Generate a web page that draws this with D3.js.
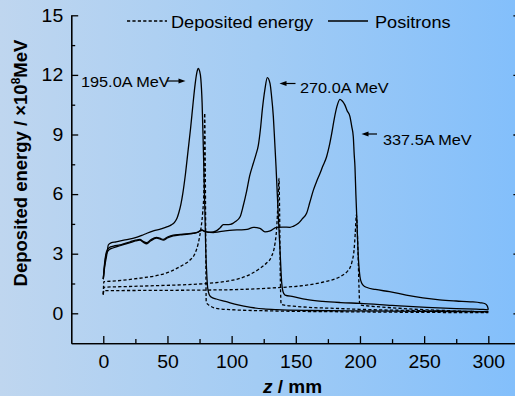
<!DOCTYPE html>
<html>
<head>
<meta charset="utf-8">
<script src="https://cdn.jsdelivr.net/npm/d3@7"></script>
<style>
  html, body { margin: 0; padding: 0; overflow: hidden; }
  svg { display: block; }
</style>
</head>
<body>
<svg id="chart" width="515" height="396"></svg>
<script>
// ---- tick values -------------------------------------------------------
const xMajorTicks = [0, 50, 100, 150, 200, 250, 300];
const xMinorTicks = [25, 75, 125, 175, 225, 275];
const yMajorTicks = [0, 3, 6, 9, 12, 15];
const yMinorTicks = [1.5, 4.5, 7.5, 10.5, 13.5];

const legendLabels = ["Deposited energy", "Positrons"];
const beamLabels = ["195.0A MeV", "270.0A MeV", "337.5A MeV"];

// ---- positron yield along depth z (mm), energy in 1e8 MeV --------------
const positrons195 = [
  [0,1.72],[1,2.3],[2.6,2.9],[4,3.45],[6,3.55],[10,3.6],[16,3.68],[23,3.77],
  [30,3.92],[34,4.03],[39,4.15],[45,4.25],[50,4.36],[53,4.45],[55.5,4.58],
  [57.5,4.8],[59,5.1],[60.5,5.5],[62,6.05],[64,7.0],[66,8.15],[68,9.3],[70,10.6],
  [71.5,11.5],[73,12.15],[74,12.33],[75,12.2],[76,11.8],[77,10.6],[78,8.2],
  [79,5.6],[79.8,3.3],[80.6,2.0],[81.3,1.3],[82.5,0.95],[84,0.82],[88,0.72],
  [95,0.6],[105,0.42],[115,0.3],[125,0.22],[135,0.18],[160,0.14],[200,0.12],
  [250,0.1],[300,0.08]
];
const positrons270 = [
  [0,1.72],[1,2.5],[2.5,3.1],[4.5,3.3],[8,3.38],[13,3.44],[17,3.52],[21,3.6],
  [25,3.68],[28.6,3.72],[31,3.62],[33.8,3.55],[37,3.7],[41.6,3.82],[44,3.78],
  [46.8,3.72],[50,3.84],[54.5,3.94],[60,3.97],[65,4.0],[70,4.03],[74,4.1],
  [76.5,4.2],[79,4.12],[82,4.08],[85.7,4.1],[88,4.15],[91,4.3],[93.5,4.46],
  [96,4.46],[99,4.48],[101,4.53],[103,4.62],[106.6,4.86],[109,5.4],[111.7,6.15],
  [114,6.9],[116.9,7.55],[119,8.0],[120.8,8.45],[122.5,9.3],[124,10.3],
  [126,11.3],[127.8,11.86],[129.9,11.57],[131,11.0],[132.5,9.9],[133.6,8.6],
  [134.6,7.38],[135.5,6.1],[136.4,4.86],[137.7,3.19],[139,1.55],[140,1.1],
  [141.6,0.92],[148,0.84],[158,0.7],[171,0.6],[185,0.54],[200,0.5],[225,0.4],
  [252,0.3],[275,0.24],[296,0.2],[300,0.17]
];
const positrons337 = [
  [0,1.72],[1,2.4],[2.5,3.0],[4.5,3.2],[8,3.3],[13,3.4],[17,3.48],[21,3.56],
  [25,3.64],[28.6,3.68],[31,3.58],[33.8,3.5],[37,3.65],[41.6,3.78],[44,3.74],
  [46.8,3.68],[50,3.8],[54.5,3.9],[60,3.95],[65,3.98],[70,4.02],[74,4.08],
  [77,4.18],[80,4.1],[85.7,4.06],[90,4.1],[95,4.15],[101,4.19],[106.6,4.2],
  [112,4.22],[117,4.33],[122,4.28],[126,4.1],[130,4.15],[135,4.33],[140,4.34],
  [145.5,4.33],[148,4.38],[152,4.53],[155,4.75],[158.5,5.05],[161,5.6],
  [163.7,6.2],[166,6.6],[168.9,7.05],[171,7.4],[174,7.88],[176,8.4],[178,9.06],
  [180,9.8],[182,10.4],[184.4,10.77],[186,10.7],[188.3,10.48],[190,10.2],
  [192.2,9.9],[193.6,9.4],[194.8,8.89],[195.5,8.0],[196.1,7.38],[196.8,6.0],
  [197.5,4.86],[198.2,3.6],[198.7,2.85],[199.4,2.2],[200,1.84],[201.4,1.51],
  [203,1.38],[205,1.31],[212,1.2],[223,1.09],[236,0.92],[249,0.78],[262,0.68],
  [275,0.62],[286,0.58],[294,0.53],[297.5,0.48],[299.3,0.35],[300,0.18]
];

// ---- deposited energy along depth z -----------------------------------
const deposited195 = [
  [0,0.95],[0.4,1.59],[10,1.63],[20,1.7],[31,1.79],[44,1.93],[51,2.07],
  [57.2,2.26],[62.5,2.45],[67.6,2.68],[71.5,3.02],[74,3.52],[75.9,4.19],
  [77.4,5.03],[78.3,6.0],[78.7,8.0],[79,10.07],[79.4,8.0],[79.8,4.0],
  [80.2,0.55],[81.5,0.45],[83,0.38],[88,0.25],[100,0.18],[132,0.12],
  [200,0.07],[300,0.03]
];
const deposited270 = [
  [0,0.95],[0.4,1.31],[20,1.35],[40,1.39],[60,1.43],[80,1.5],[95,1.6],
  [106.6,1.76],[115,1.98],[122,2.26],[127,2.52],[131,2.85],[133.8,3.52],
  [135,4.2],[135.6,4.86],[136.3,5.9],[136.9,6.79],[137.4,5.0],[137.9,2.0],
  [138.6,0.45],[142,0.4],[148,0.36],[160,0.3],[180,0.25],[200,0.2],
  [250,0.13],[300,0.08]
];
const deposited337 = [
  [0,0.95],[0.4,1.14],[30,1.15],[60,1.16],[80,1.17],[106.6,1.2],[130,1.27],
  [158.5,1.42],[172,1.58],[184.4,1.84],[190,2.1],[192,2.26],[194,2.65],
  [195.4,3.19],[196.3,4.0],[197.2,4.95],[198.5,3.0],[199.3,1.2],[199.8,0.42],
  [205,0.38],[220,0.3],[250,0.18],[275,0.12],[300,0.06]
];

// ---- layout ------------------------------------------------------------
const W = 515, H = 396;
const FONT = "'Liberation Sans', Arial, Helvetica, sans-serif";
const svg = d3.select("#chart");

const x = d3.scaleLinear().domain([-25, 325]).range([71.2, 520.4]);
const y = d3.scaleLinear().domain([-1.5, 15]).range([343.1, 15.3]);

// background wash
const defs = svg.append("defs");
const grad = defs.append("linearGradient").attr("id", "bg")
  .attr("x1", "0%").attr("x2", "100%").attr("y1", "0%").attr("y2", "0%");
grad.append("stop").attr("offset", "0%").attr("stop-color", "rgb(191,214,239)");
grad.append("stop").attr("offset", "50%").attr("stop-color", "rgb(163,204,244)");
grad.append("stop").attr("offset", "100%").attr("stop-color", "rgb(131,191,251)");
svg.append("rect").attr("width", W).attr("height", H).attr("fill", "url(#bg)");

// ---- axes --------------------------------------------------------------
const TICK_FONT = 18, TICK_STRETCH = 1.08;

function styleAxis(g) {
  g.attr("color", "#000");
  g.selectAll("path.domain").attr("stroke-width", 1.3);
  g.selectAll(".tick line").attr("stroke-width", 1.3);
}

// bottom
const gxMajor = svg.append("g").attr("transform", `translate(0,${y(-1.5)})`)
  .call(d3.axisBottom(x).tickValues(xMajorTicks).tickSizeInner(-7).tickSizeOuter(0).tickPadding(12));
styleAxis(gxMajor);
gxMajor.selectAll("text")
  .attr("font-family", FONT).attr("font-size", TICK_FONT).attr("fill", "#000")
  .attr("transform", `scale(${TICK_STRETCH},1)`);
const gxMinor = svg.append("g").attr("transform", `translate(0,${y(-1.5)})`)
  .call(d3.axisBottom(x).tickValues(xMinorTicks).tickSizeInner(-4).tickSizeOuter(0).tickFormat(""));
styleAxis(gxMinor);

// left
const gyMajor = svg.append("g").attr("transform", `translate(${x(-25)},0)`)
  .call(d3.axisLeft(y).tickValues(yMajorTicks).tickSizeInner(-7).tickSizeOuter(0).tickPadding(8));
styleAxis(gyMajor);
gyMajor.selectAll("text")
  .attr("font-family", FONT).attr("font-size", TICK_FONT).attr("fill", "#000")
  .attr("x", -8 / TICK_STRETCH)
  .attr("transform", `scale(${TICK_STRETCH},1)`);
const gyMinor = svg.append("g").attr("transform", `translate(${x(-25)},0)`)
  .call(d3.axisLeft(y).tickValues(yMinorTicks).tickSizeInner(-4).tickSizeOuter(0).tickFormat(""));
styleAxis(gyMinor);

// right (mirror, ticks only)
const gyRight = svg.append("g").attr("transform", `translate(${x(325)},0)`)
  .call(d3.axisRight(y).tickValues(yMajorTicks).tickSizeInner(-7).tickSizeOuter(0).tickFormat(""));
styleAxis(gyRight);
const gyRightMinor = svg.append("g").attr("transform", `translate(${x(325)},0)`)
  .call(d3.axisRight(y).tickValues(yMinorTicks).tickSizeInner(-4).tickSizeOuter(0).tickFormat(""));
styleAxis(gyRightMinor);

// axis titles
const yTitle = svg.append("text")
  .attr("transform", "translate(27,163) rotate(-90)")
  .attr("text-anchor", "middle")
  .attr("font-family", FONT).attr("font-weight", "bold").attr("font-size", 18.5)
  .attr("fill", "#000");
yTitle.append("tspan").text("Deposited energy / ×10");
yTitle.append("tspan").attr("font-size", 12).attr("dy", -7).text("8");
yTitle.append("tspan").attr("dy", 7).text("MeV");

const xTitle = svg.append("text")
  .attr("x", 292.5).attr("y", 393)
  .attr("text-anchor", "middle")
  .attr("font-family", FONT).attr("font-weight", "bold").attr("font-size", 19)
  .attr("fill", "#000");
xTitle.append("tspan").attr("font-style", "italic").text("z");
xTitle.append("tspan").text(" / mm");

// ---- curves ------------------------------------------------------------
const line = d3.line()
  .x(d => x(d[0])).y(d => y(d[1]))
  .curve(d3.curveMonotoneX);

const curves = svg.append("g").attr("fill", "none").attr("stroke", "#000");
[deposited195, deposited270, deposited337].forEach(s => {
  curves.append("path").attr("d", line(s))
    .attr("stroke-width", 1.3).attr("stroke-dasharray", "3.2,2.2");
});
[positrons195, positrons270, positrons337].forEach(s => {
  curves.append("path").attr("d", line(s))
    .attr("stroke-width", 1.3).attr("stroke-linejoin", "round");
});

// ---- legend ------------------------------------------------------------
const LEG_FONT = 16.5, LEG_STRETCH = 1.1;
const legend = svg.append("g");
legend.append("line").attr("x1", 127).attr("x2", 167).attr("y1", 21).attr("y2", 21)
  .attr("stroke", "#000").attr("stroke-width", 1.3).attr("stroke-dasharray", "3.2,2.2");
legend.append("text").attr("transform", `translate(171,27.5) scale(${LEG_STRETCH},1)`)
  .attr("font-family", FONT).attr("font-size", LEG_FONT).attr("fill", "#000")
  .text(legendLabels[0]);
legend.append("line").attr("x1", 328).attr("x2", 368).attr("y1", 21).attr("y2", 21)
  .attr("stroke", "#000").attr("stroke-width", 1.3);
legend.append("text").attr("transform", `translate(375,27.5) scale(${LEG_STRETCH},1)`)
  .attr("font-family", FONT).attr("font-size", LEG_FONT).attr("fill", "#000")
  .text(legendLabels[1]);

// ---- beam energy annotations -------------------------------------------
const ANN_FONT = 15.5, ANN_STRETCH = 1.05;
function arrow(x1, x2, yy) {
  // shaft from x1 to tip x2 with a filled head
  const dir = Math.sign(x2 - x1);
  svg.append("line").attr("x1", x1).attr("x2", x2 - dir * 5).attr("y1", yy).attr("y2", yy)
    .attr("stroke", "#000").attr("stroke-width", 1.2);
  svg.append("path")
    .attr("d", `M${x2},${yy} L${x2 - dir * 7},${yy - 2.4} L${x2 - dir * 7},${yy + 2.4} Z`)
    .attr("fill", "#000");
}
function label(tx, ty, str) {
  svg.append("text").attr("transform", `translate(${tx},${ty}) scale(${ANN_STRETCH},1)`)
    .attr("font-family", FONT).attr("font-size", ANN_FONT).attr("fill", "#000")
    .text(str);
}
label(81, 87, beamLabels[0]);
arrow(167, 185.5, 81);
label(300, 93, beamLabels[1]);
arrow(295.5, 279.5, 83.5);
label(383, 145, beamLabels[2]);
arrow(377, 361.5, 134);
</script>
</body>
</html>
